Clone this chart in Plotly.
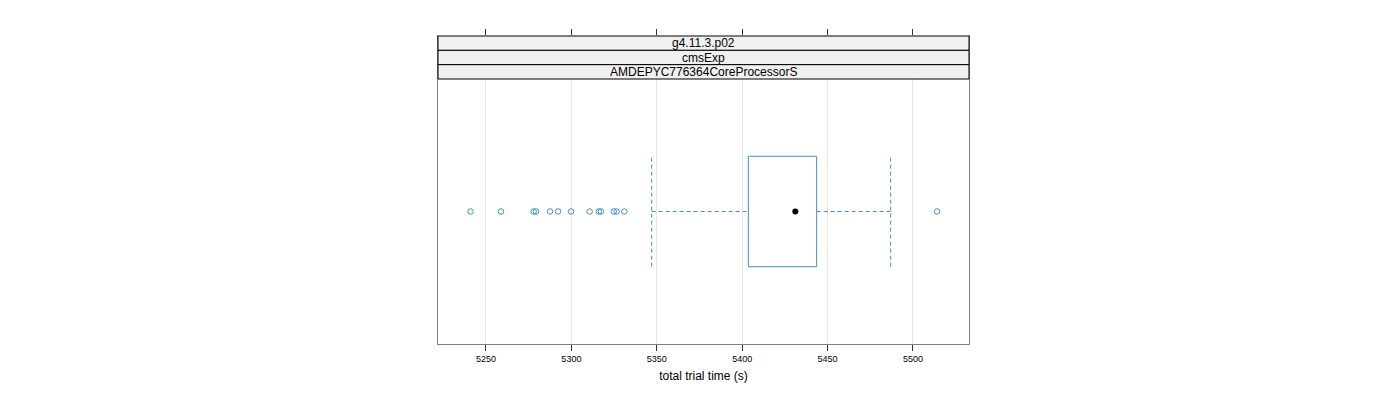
import plotly.graph_objects as go

# ── data ────────────────────────────────────────────
strip_labels = ['g4.11.3.p02', 'cmsExp', 'AMDEPYC776364CoreProcessorS']
outliers = [5241.0, 5258.8, 5277.9, 5279.3, 5287.5, 5292.2, 5299.8,
            5310.7, 5316.0, 5317.3, 5324.8, 5326.5, 5331.0, 5514.1]
whisker_lo = 5347.0
q1 = 5403.6
median = 5431.1
q3 = 5443.6
whisker_hi = 5486.9
tick_vals = [5250, 5300, 5350, 5400, 5450, 5500]

col = '#3f8fc8'
lvl = 1.0          # single factor level
half = 0.25        # half box height (box.ratio = 1)
panel_top = 1.6
strip_h = 0.0649

fig = go.Figure()

# box
fig.add_trace(go.Scatter(
    x=[q1, q3, q3, q1, q1],
    y=[lvl - half, lvl - half, lvl + half, lvl + half, lvl - half],
    mode='lines', line=dict(color=col, width=1), hoverinfo='skip'))

# whiskers (dashed)
for xs, ys in [([whisker_lo, q1], [lvl, lvl]),
               ([q3, whisker_hi], [lvl, lvl]),
               ([whisker_lo, whisker_lo], [lvl - half, lvl + half]),
               ([whisker_hi, whisker_hi], [lvl - half, lvl + half])]:
    fig.add_trace(go.Scatter(x=xs, y=ys, mode='lines',
                             line=dict(color=col, width=1, dash='4px,3px'),
                             hoverinfo='skip'))

# median dot
fig.add_trace(go.Scatter(x=[median], y=[lvl], mode='markers',
                         marker=dict(color='black', size=6)))

# outliers
fig.add_trace(go.Scatter(x=outliers, y=[lvl] * len(outliers), mode='markers',
                         marker=dict(symbol='circle-open', color=col, size=5.5,
                                     line=dict(width=1))))

# strips
for i, lab in enumerate(strip_labels):
    y0 = panel_top + (len(strip_labels) - 1 - i) * strip_h
    fig.add_shape(type='rect', xref='x domain', yref='y', x0=0, x1=1,
                  y0=y0, y1=y0 + strip_h, fillcolor='#f0f0f0',
                  line=dict(color='black', width=1), layer='above')
    fig.add_annotation(x=0.5, xref='x domain', y=y0 + strip_h / 2, yref='y',
                       text=lab, showarrow=False,
                       font=dict(size=12, color='black'))

fig.update_layout(
    width=1400, height=400,
    margin=dict(l=430, r=439, t=28, b=64),
    paper_bgcolor='white', plot_bgcolor='white',
    showlegend=False,
    font=dict(family='Liberation Sans, Arial, sans-serif', color='black'),
    xaxis=dict(range=[5221.9, 5532.8], tickvals=tick_vals,
               ticks='outside', ticklen=6, tickcolor='#333333',
               showline=True, linecolor='#808080', linewidth=1,
               mirror='ticks', showgrid=True, gridcolor='#e8e8e8',
               zeroline=False, tickfont=dict(size=9),
               title=dict(text='total trial time (s)', font=dict(size=12),
                          standoff=8)),
    yaxis=dict(range=[0.4, panel_top + 3 * strip_h], showticklabels=False,
               ticks='', showgrid=False, zeroline=False,
               showline=True, linecolor='#808080', linewidth=1,
               mirror=True),
)

fig.write_html('out.html')
